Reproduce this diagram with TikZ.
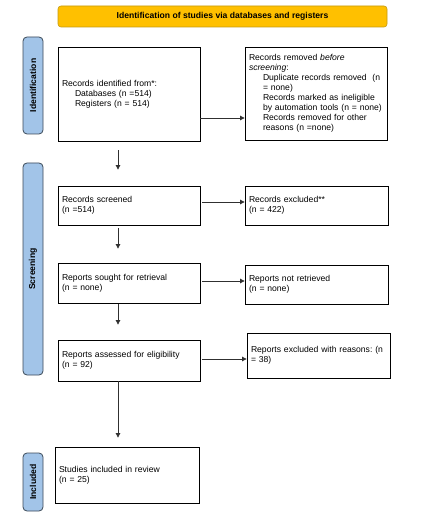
\documentclass[tikz,border=0pt]{standalone}
\usepackage{fontspec}
\setmainfont{Liberation Sans}
\usetikzlibrary{arrows.meta}
\definecolor{bannerfill}{HTML}{FFC000}
\definecolor{bannerdraw}{HTML}{C49A10}
\definecolor{sidefill}{HTML}{A2C4E8}
\definecolor{sidedraw}{HTML}{3C4A58}
\definecolor{arrowcol}{HTML}{303030}
\frenchspacing
\begin{document}
\begin{tikzpicture}[x=1pt,y=-1pt,
  every node/.style={font=\fontsize{8.6}{10}\selectfont, text=black},
  box/.style={draw=black, line width=0.8pt, inner xsep=4pt, inner ysep=2pt, align=left},
  banner/.style={draw=bannerdraw, fill=bannerfill, line width=0.6pt, rounded corners=3pt, align=center, font=\fontsize{8.6}{10}\selectfont\bfseries},
  side/.style={draw=sidedraw, fill=sidefill, line width=0.8pt, rounded corners=4pt, rotate=90, inner sep=0pt, minimum height=20pt, font=\fontsize{8.6}{10}\selectfont\bfseries},
  arr/.style={draw=arrowcol, line width=0.7pt, -{Triangle[length=4.5pt,width=4.5pt]}}
]
\useasboundingbox (0,0) rectangle (435,518);
\fill[white] (0,0) rectangle (435,518);

\node[banner, minimum width=329pt, minimum height=21pt] (banner) at (222.5,16.5) {Identification of studies via databases and registers};

\node[side, minimum width=97pt] (sid) at (33,85.5) {Identification};
\node[side, minimum width=212pt] (sscr) at (33,269) {Screening};
\node[side, minimum width=58pt] (sinc) at (33,482) {Included};

\node[box, text width=134pt, minimum height=94pt] (b1) at (129,94)
  {Records identified from*:\\\hspace*{13pt}Databases (n =514)\\\hspace*{13pt}Registers (n = 514)};
\node[box, text width=134pt, minimum height=93pt] (b2) at (316,93.5)
  {Records removed \textit{before}\\\textit{screening}:\\
   \hspace*{14pt}Duplicate records removed\ \ (n\\
   \hspace*{14pt}= none)\\
   \hspace*{14pt}Records marked as ineligible\\
   \hspace*{14pt}by automation tools (n = none)\\
   \hspace*{14pt}Records removed for other\\
   \hspace*{14pt}reasons (n =none)};

\node[box, text width=134pt, minimum height=39pt] (b3) at (129,205.5) {Records screened\\(n =514)};
\node[box, text width=135pt, minimum height=39pt] (b4) at (316.5,205.5) {Records excluded**\\(n = 422)};

\node[box, text width=134pt, minimum height=40pt] (b5) at (129,283) {Reports sought for retrieval\\(n = none)};
\node[box, text width=135pt, minimum height=39pt] (b6) at (316.5,284.5) {Reports not retrieved\\(n = none)};

\node[box, text width=134pt, minimum height=41pt] (b7) at (129,360.5) {Reports assessed for eligibility\\(n = 92)};
\node[box, text width=135pt, minimum height=45pt] (b8) at (318.5,355.5) {Reports excluded with reasons: (n\\= 38)};

\node[box, text width=136pt, minimum height=56pt] (b9) at (127,475) {Studies included in review\\(n = 25)};

\draw[arr] (b1.east |- 0,118) -- (b2.west |- 0,118);
\draw[arr] ([xshift=2pt]b3.east |- 0,202) -- (b4.west |- 0,202);
\draw[arr] ([xshift=2pt]b5.east |- 0,281) -- (b6.west |- 0,281);
\draw[arr] ([xshift=2pt]b7.east |- 0,359) -- (b8.west |- 0,359);

\draw[arr] ([xshift=-11pt,yshift=-9pt]b1.south) -- ([xshift=-11pt,yshift=16pt]b3.north);
\draw[arr] ([xshift=-11pt,yshift=-3pt]b3.south) -- ([xshift=-11pt,yshift=14pt]b5.north);
\draw[arr] ([xshift=-11pt,yshift=-1pt]b5.south) -- ([xshift=-11pt,yshift=15pt]b7.north);
\draw[arr] ([xshift=-11pt]b7.south) -- ([xshift=-9pt,yshift=9pt]b9.north);
\end{tikzpicture}
\end{document}
